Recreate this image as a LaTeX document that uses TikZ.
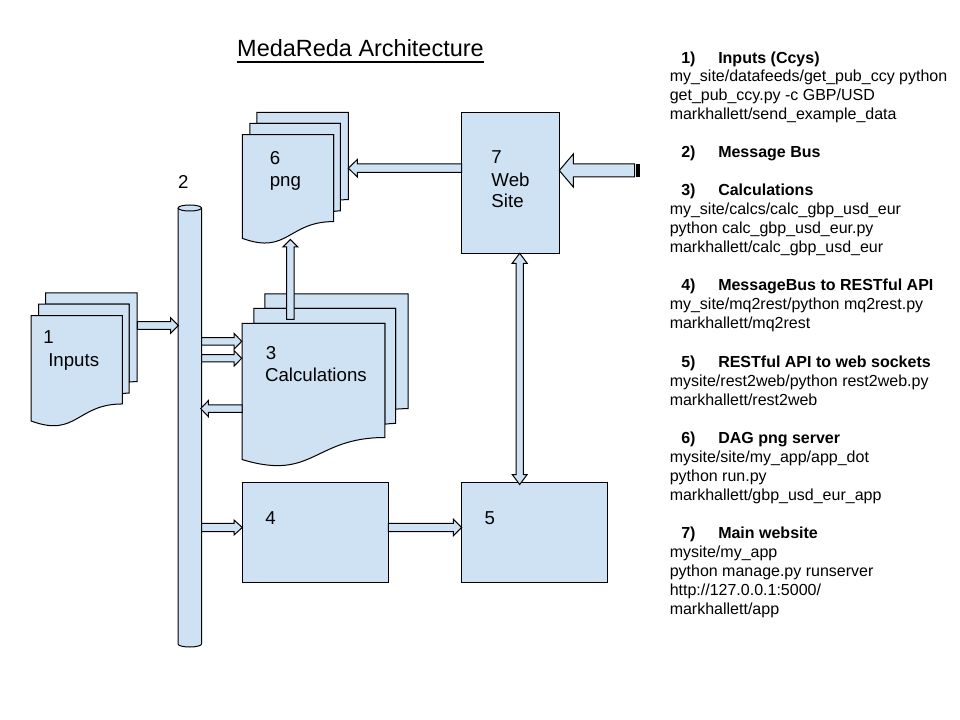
\documentclass[tikz,border=0pt]{standalone}
\usepackage{fontspec}
\setmainfont{Liberation Sans}
\definecolor{lb}{HTML}{CFE2F3}
\tikzset{
  shp/.style={fill=lb, draw=black, line width=0.75pt, line join=miter},
  lbl/.style={inner sep=0pt, anchor=base west, font=\fontsize{14}{16}\selectfont},
  body/.style={inner sep=0pt, anchor=base west, font=\fontsize{12}{14}\selectfont},
  head/.style={inner sep=0pt, anchor=base west, font=\fontsize{12}{14}\selectfont\bfseries},
}
% multi-document shape: left, top, width, height
\newcommand\mdocshape[4]{%
  \begin{scope}[shift={(#1,#2)}, xscale=#3, yscale=#4]
    \draw[shp] (0.13759,0.08403) -- (0.13759,0) -- (1,0) -- (1,0.66630)
      .. controls (0.96296,0.66630) and (0.92593,0.66977) .. (0.92593,0.66977)
      -- (0.92593,0.08403) -- cycle;
    \draw[shp] (0.07093,0.17014) -- (0.07093,0.08403) -- (0.92593,0.08403) -- (0.92593,0.75241)
      .. controls (0.89343,0.75241) and (0.86088,0.75704) .. (0.86088,0.75704)
      -- (0.86088,0.17014) -- cycle;
    \draw[shp] (0,0.96213) .. controls (0.43046,1.08991) and (0.43046,0.83435) .. (0.86088,0.83435)
      -- (0.86088,0.17014) -- (0,0.17014) -- cycle;
  \end{scope}}
% horizontal block arrow: xstart, xtip, ycentre, shaft half, head half, head length
\newcommand\harrow[6]{%
  \pgfmathsetmacro\hbase{#2-sign(#2-#1)*#6}%
  \draw[shp] (#1,#3-#4) -- (\hbase,#3-#4) -- (\hbase,#3-#5) -- (#2,#3)
    -- (\hbase,#3+#5) -- (\hbase,#3+#4) -- (#1,#3+#4) -- cycle;}
% vertical block arrow: ystart, ytip, xcentre, shaft half, head half, head length
\newcommand\varrow[6]{%
  \pgfmathsetmacro\hbase{#2-sign(#2-#1)*#6}%
  \draw[shp] (#3-#4,#1) -- (#3-#4,\hbase) -- (#3-#5,\hbase) -- (#3,#2)
    -- (#3+#5,\hbase) -- (#3+#4,\hbase) -- (#3+#4,#1) -- cycle;}
\begin{document}
\begin{tikzpicture}[x=0.75pt, y=-0.75pt]
\useasboundingbox (0,0) rectangle (960,720);
\fill[white] (0,0) rectangle (960,720);

% title
\node[inner sep=0pt, anchor=base, font=\fontsize{17.6}{20}\selectfont] (title) at (360.5,57) {MedaReda Architecture};
\draw[line width=1.1pt] ([yshift=-3.9pt]title.base west) -- ([yshift=-3.9pt]title.base east);

% documents
\mdocshape{31}{293}{106}{133}
\mdocshape{242}{294}{166}{172}
\mdocshape{242.3}{112.3}{106}{131}

% boxes
\draw[shp] (461.7,112.3) rectangle (559.3,253.3);
\draw[shp] (242.3,482.3) rectangle (388.3,582.3);
\draw[shp] (461.7,482.3) rectangle (607.7,582.3);

% message bus cylinder
\draw[shp] (178,208) -- (178,644) arc[start angle=180, end angle=0, x radius=11.75, y radius=3]
  -- (201.5,208) arc[start angle=0, end angle=-180, x radius=11.75, y radius=3] -- cycle;
\draw[line width=0.75pt] (178,208) arc[start angle=180, end angle=0, x radius=11.75, y radius=3];

% arrows
\harrow{137.3}{178.3}{325.5}{3.8}{7.8}{7.6}
\harrow{201.5}{241.7}{341.3}{3.8}{8}{7.7}
\harrow{201.5}{241.7}{358.3}{3.6}{7.8}{7.7}
\harrow{242}{200.7}{408.6}{3.7}{8}{7.6}
\varrow{319.3}{239.5}{290.3}{3.7}{7.5}{7.5}
\harrow{461.7}{348.3}{168.2}{4.2}{8.7}{9}
\harrow{201.5}{242.3}{527.5}{4.2}{7.5}{8.3}
\harrow{388.3}{461.7}{527.5}{4.2}{8.3}{8.4}
\harrow{634.5}{559.3}{170.5}{6.5}{16.5}{14}
\fill[black] (636,164) rectangle (639.5,177);
\draw[shp] (519.7,253.3) -- (527.2,263.3) -- (523.4,263.3) -- (523.4,474.5) -- (527.2,474.5)
  -- (519.7,484.5) -- (512.2,474.5) -- (516,474.5) -- (516,263.3) -- (512.2,263.3) -- cycle;

% labels
\node[lbl] (l1a) at (43,343.3) {1};
\node[lbl] (l1b) at (48,366) {Inputs};
\node[lbl] (l2) at (177.8,188.7) {2};
\node[lbl] (l3a) at (265.5,359.3) {3};
\node[lbl] (l3b) at (264.8,381) {Calculations};
\node[lbl] (l4) at (265,524) {4};
\node[lbl] (l5) at (484.3,524) {5};
\node[lbl] (l6a) at (269.5,165) {6};
\node[lbl] (l6b) at (269.5,187) {png};
\node[lbl] (l7a) at (491,164) {7};
\node[lbl] (l7b) at (491.2,186.7) {Web};
\node[lbl] (l7c) at (491.2,207.3) {Site};

% right-hand notes
\node[head] (n1) at (681,64) {1)};
\node[head] (h1) at (718,64) {Inputs (Ccys)};
\node[body] (b1a) at (669.5,82) {my\_site/datafeeds/get\_pub\_ccy python};
\node[body] (b1b) at (669.5,101) {get\_pub\_ccy.py -c GBP/USD};
\node[body] (b1c) at (669.5,120) {markhallett/send\_example\_data};
\node[head] (n2) at (681,158) {2)};
\node[head] (h2) at (718,158) {Message Bus};
\node[head] (n3) at (681,196) {3)};
\node[head] (h3) at (718,196) {Calculations};
\node[body] (b3a) at (669.5,215) {my\_site/calcs/calc\_gbp\_usd\_eur};
\node[body] (b3b) at (669.5,234) {python calc\_gbp\_usd\_eur.py};
\node[body] (b3c) at (669.5,253) {markhallett/calc\_gbp\_usd\_eur};
\node[head] (n4) at (681,291) {4)};
\node[head] (h4) at (718,291) {MessageBus to RESTful API};
\node[body] (b4a) at (669.5,310) {my\_site/mq2rest/python mq2rest.py};
\node[body] (b4b) at (669.5,329) {markhallett/mq2rest};
\node[head] (n5) at (681,367) {5)};
\node[head] (h5) at (718,367) {RESTful API to web sockets};
\node[body] (b5a) at (669.5,386) {mysite/rest2web/python rest2web.py};
\node[body] (b5b) at (669.5,405) {markhallett/rest2web};
\node[head] (n6) at (681,443) {6)};
\node[head] (h6) at (718,443) {DAG png server};
\node[body] (b6a) at (669.5,462) {mysite/site/my\_app/app\_dot};
\node[body] (b6b) at (669.5,481) {python run.py};
\node[body] (b6c) at (669.5,500) {markhallett/gbp\_usd\_eur\_app};
\node[head] (n7) at (681,538) {7)};
\node[head] (h7) at (718,538) {Main website};
\node[body] (b7a) at (669.5,557) {mysite/my\_app};
\node[body] (b7b) at (669.5,576) {python manage.py runserver};
\node[body] (b7c) at (669.5,595) {http://127.0.0.1:5000/};
\node[body] (b7d) at (669.5,614) {markhallett/app};
\end{tikzpicture}
\end{document}
